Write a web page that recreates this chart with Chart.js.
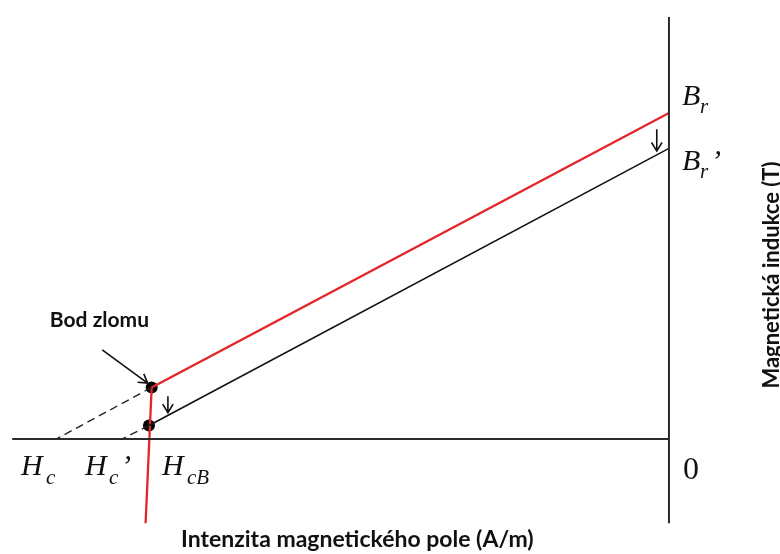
<!DOCTYPE html>
<html>
<head>
<meta charset="utf-8">
<script src="https://cdn.jsdelivr.net/npm/chart.js@4/dist/chart.umd.min.js"></script>
<style>
  html, body { margin: 0; padding: 0; background: #fff; }
  #wrap { width: 780px; height: 554px; }
</style>
</head>
<body>
<div id="wrap"><canvas id="bh" width="780" height="554"></canvas></div>
<script>
// Demagnetisation curve (H in kA/m, B in T)
const redH = [0, -764, -773];          // original curve: Br -> knee -> drop
const redB = [1.2, 0.19, -0.31];
const recoilH = [0, -768];             // shifted recoil line: Br' -> knee'
const recoilB = [1.07, 0.05];
const dashH = [-905, -808];            // Hc, Hc'
const kneeH = [-764, -768];
const kneeB = [0.19, 0.05];
const axisH = [-970, 0];
const axisB = [1.553, -0.31];

// arrows: [fromH, fromB, toH, toB]
const arrows = [
  [-18, 1.14, -18, 1.06],
  [-740, 0.158, -740, 0.097],
  [-837, 0.328, -770, 0.206],
];

const pts = (xs, ys) => xs.map((x, i) => ({ x, y: ys[i] }));

const labelsPlugin = {
  id: 'labels',
  afterDatasetsDraw(chart) {
    const { ctx, scales: { x, y } } = chart;
    ctx.save();

    // arrows
    ctx.strokeStyle = '#111';
    ctx.lineWidth = 1.6;
    arrows.forEach(([h0, b0, h1, b1]) => {
      const x0 = x.getPixelForValue(h0), y0 = y.getPixelForValue(b0);
      const x1 = x.getPixelForValue(h1), y1 = y.getPixelForValue(b1);
      const a = Math.atan2(y1 - y0, x1 - x0);
      ctx.beginPath();
      ctx.moveTo(x0, y0);
      ctx.lineTo(x1, y1);
      ctx.moveTo(x1 - 10 * Math.cos(a - 0.55), y1 - 10 * Math.sin(a - 0.55));
      ctx.lineTo(x1, y1);
      ctx.lineTo(x1 - 10 * Math.cos(a + 0.55), y1 - 10 * Math.sin(a + 0.55));
      ctx.stroke();
    });

    ctx.fillStyle = '#111';
    ctx.textBaseline = 'alphabetic';
    ctx.textAlign = 'left';
    const x0 = x.getPixelForValue(0);
    const main = 'italic 30px "Liberation Serif", serif';
    const sub = 'italic 21px "Liberation Serif", serif';

    // Br, Br'
    const brY = y.getPixelForValue(redB[0]);
    const br2Y = y.getPixelForValue(recoilB[0]);
    ctx.font = main; ctx.fillText('B', x0 + 13, brY - 8);
    ctx.font = sub; ctx.fillText('r', x0 + 31, brY);
    ctx.font = main; ctx.fillText('B', x0 + 13, br2Y + 22);
    ctx.font = sub; ctx.fillText('r', x0 + 31, br2Y + 30);
    ctx.font = main; ctx.fillText('\u2019', x0 + 42, br2Y + 22);

    // 0
    const y0 = y.getPixelForValue(0);
    ctx.font = '32px "Liberation Serif", serif';
    ctx.fillText('0', x0 + 14, y0 + 40);

    // Hc, Hc', HcB
    const hy = y0 + 36;
    ctx.font = main; ctx.fillText('H', 21, hy);
    ctx.font = sub; ctx.fillText('c', 46, hy + 9);
    ctx.font = main; ctx.fillText('H', 85, hy);
    ctx.font = sub; ctx.fillText('c', 109, hy + 9);
    ctx.font = main; ctx.fillText('\u2019', 121, hy);
    ctx.font = main; ctx.fillText('H', 162, hy);
    ctx.font = sub; ctx.fillText('cB', 187, hy + 9);

    // annotations and axis titles
    ctx.font = 'bold 21px Lato, sans-serif';
    ctx.textAlign = 'right';
    ctx.fillText('Bod zlomu', 149, 327);

    ctx.textAlign = 'left';
    ctx.font = 'bold 23px Lato, sans-serif';
    ctx.fillText('Intenzita magnetického pole (A/m)', 181, 547);

    ctx.translate(779, 275);
    ctx.rotate(-Math.PI / 2);
    ctx.textAlign = 'center';
    ctx.font = 'bold 22px Lato, sans-serif';
    ctx.fillText('Magnetická indukce (T)', 0, 0);
    ctx.restore();
  },
};

const axisColor = '#2b2b2b';
const red = '#e3262a';

new Chart(document.getElementById('bh'), {
  type: 'scatter',
  data: {
    datasets: [
      { data: pts(axisH, [0, 0]), showLine: true, borderColor: axisColor, borderWidth: 2, pointRadius: 0 },
      { data: pts([0, 0], axisB), showLine: true, borderColor: axisColor, borderWidth: 2, pointRadius: 0 },
      { data: pts([kneeH[0], dashH[0]], [kneeB[0], 0]), showLine: true, borderColor: '#222', borderWidth: 1.4, borderDash: [8, 5], pointRadius: 0 },
      { data: pts([kneeH[1], dashH[1]], [kneeB[1], 0]), showLine: true, borderColor: '#222', borderWidth: 1.4, borderDash: [8, 5], pointRadius: 0 },
      { data: pts(recoilH, recoilB), showLine: true, borderColor: '#111', borderWidth: 1.6, pointRadius: 0 },
      { data: pts(redH, redB), showLine: true, borderColor: red, borderWidth: 2.3, pointRadius: 0 },
      { data: pts(kneeH, kneeB), showLine: false, pointRadius: 6, pointBackgroundColor: '#000', pointBorderWidth: 0 },
    ],
  },
  options: {
    responsive: false,
    animation: false,
    layout: { padding: 0, autoPadding: false },
    plugins: { legend: { display: false }, tooltip: { enabled: false } },
    scales: {
      x: { type: 'linear', display: false, min: -988, max: 164 },
      y: { type: 'linear', display: false, min: -0.423, max: 1.616 },
    },
  },
  plugins: [labelsPlugin],
});
</script>
</body>
</html>
